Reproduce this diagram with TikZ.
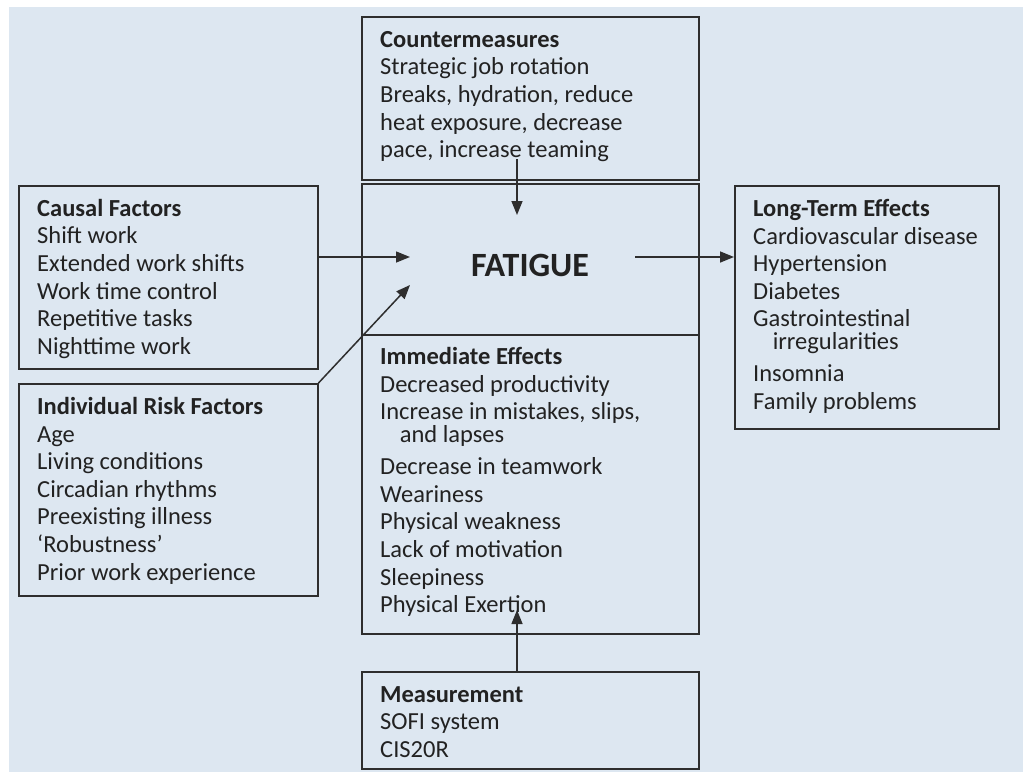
\documentclass[tikz,border=0pt]{standalone}
\usepackage{fontspec}
\setmainfont{Carlito}
\usetikzlibrary{arrows.meta,positioning}
\definecolor{bgblue}{HTML}{DDE7F1}
\definecolor{edgegray}{HTML}{2E2E2E}
\definecolor{inkgray}{HTML}{222222}
\tikzset{
  panel/.style={draw=edgegray,line width=1.5pt,fill=bgblue,anchor=north west,inner sep=0pt},
  itemlist/.style={anchor=north west,align=left,inner sep=0pt,text=inkgray,
    font=\fontsize{24.5}{27.6}\selectfont,execute at begin node={\rule{0pt}{20pt}}},
  link/.style={-{Triangle[length=14pt,width=11pt]},draw=edgegray,line width=1.5pt}
}
\newcommand{\wrapline}{\\[-4.6pt]\hspace*{0.8em}}
\newcommand{\afterwrap}{\\[4.4pt]}

\begin{document}
\begin{tikzpicture}[x=1pt,y=-1pt]
  \useasboundingbox (0,0) rectangle (1023,772);
  \fill[bgblue] (9,7) rectangle (1023,772);

  % boxes
  \node[panel,minimum width=337pt,minimum height=163pt] (counter) at (361,16) {};
  \node[panel,minimum width=337pt,minimum height=151pt] (fatigue) at (361,183) {};
  \node[panel,minimum width=337pt,minimum height=299pt] (immediate) at (361,334) {};
  \node[panel,minimum width=337pt,minimum height=97pt] (measure) at (361,671) {};
  \node[panel,minimum width=299pt,minimum height=183pt] (causal) at (18,185) {};
  \node[panel,minimum width=299pt,minimum height=212pt] (risk) at (18,383) {};
  \node[panel,minimum width=264pt,minimum height=243pt] (longterm) at (734,185) {};

  % texts
  \node[itemlist] (countertext) at ([xshift=19pt,yshift=-15pt]counter.north west)
    {\textbf{Countermeasures}\\Strategic job rotation\\Breaks, hydration, reduce\\heat exposure, decrease\\pace, increase teaming};
  \node[text=inkgray,font=\fontsize{34}{40}\selectfont\bfseries] (fatiguetext) at (530,265) {FATIGUE};
  \node[itemlist] (immediatetext) at ([xshift=19pt,yshift=-13pt]immediate.north west)
    {\textbf{Immediate Effects}\\Decreased productivity\\Increase in mistakes, slips,\wrapline and lapses\afterwrap
     Decrease in teamwork\\Weariness\\Physical weakness\\Lack of motivation\\Sleepiness\\Physical Exertion};
  \node[itemlist] (measuretext) at ([xshift=19pt,yshift=-15pt]measure.north west)
    {\textbf{Measurement}\\SOFI system\\CIS20R};
  \node[itemlist] (causaltext) at ([xshift=19pt,yshift=-14pt]causal.north west)
    {\textbf{Causal Factors}\\Shift work\\Extended work shifts\\Work time control\\Repetitive tasks\\Nighttime work};
  \node[itemlist] (risktext) at ([xshift=19pt,yshift=-14pt]risk.north west)
    {\textbf{Individual Risk Factors}\\Age\\Living conditions\\Circadian rhythms\\Preexisting illness\\`Robustness'\\Prior work experience};
  \node[itemlist] (longtermtext) at ([xshift=19pt,yshift=-14pt]longterm.north west)
    {\textbf{Long-Term Effects}\\Cardiovascular disease\\Hypertension\\Diabetes\\Gastrointestinal\wrapline irregularities\afterwrap
     Insomnia\\Family problems};

  % arrows
  \coordinate (cmfoot) at (517,159);
  \coordinate (fattop) at (517,215);
  \coordinate (fatin) at (410,257);
  \coordinate (fatdiag) at (410,285);
  \coordinate (fatout) at (635,257);
  \coordinate (exertion) at (517,610);
  \draw[link] (cmfoot) -- (fattop);
  \draw[link] (causal.east |- fatin) -- (fatin);
  \draw[link] (risk.north east) -- (fatdiag);
  \draw[link] (fatout) -- (fatout -| longterm.west);
  \draw[link] (exertion |- measure.north) -- (exertion);
\end{tikzpicture}
\end{document}
